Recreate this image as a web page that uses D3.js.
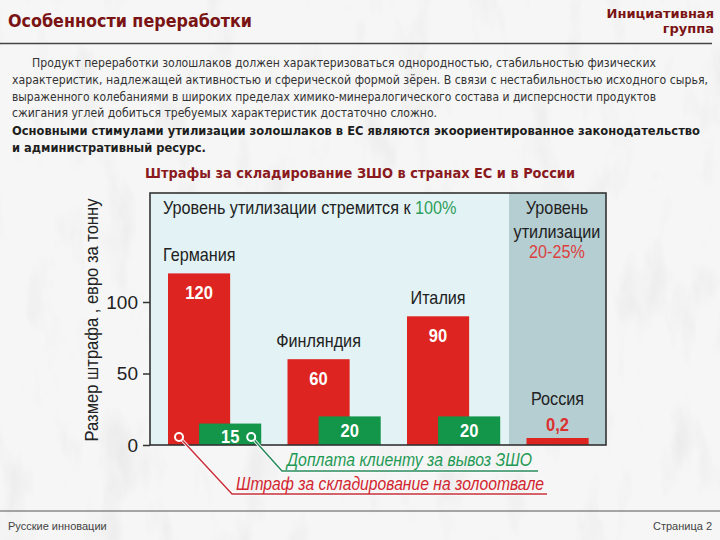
<!DOCTYPE html>
<html><head><meta charset="utf-8">
<script src="https://cdn.jsdelivr.net/npm/d3@7/dist/d3.min.js"></script>
<style>body{margin:0;background:#f0f0f0}svg{display:block}</style>
</head><body>
<svg id="c" width="720" height="540"></svg>
<script>
const countries = ["Германия", "Финляндия", "Италия", "Россия"];
const penalty = [120, 60, 90, 0.2];          // штраф за складирование
const payment = [15, 20, 20, null];          // доплата клиенту
const penaltyLabels = ["120", "60", "90", "0,2"];
const paymentLabels = ["15", "20", "20", ""];
const yTicks = [0, 50, 100];

const svg = d3.select("#c");
const defs = svg.append("defs");
const f = defs.append("filter").attr("id","marble").attr("x",0).attr("y",0).attr("width",1).attr("height",1);
f.append("feTurbulence").attr("type","fractalNoise").attr("baseFrequency","0.03 0.012").attr("numOctaves",4).attr("seed",3).attr("result","n");
f.append("feColorMatrix").attr("in","n").attr("type","matrix")
  .attr("values","0 0 0 0 0.74  0 0 0 0 0.74  0 0 0 0 0.74  0 0 0 -1.2 0.58").attr("result","m");
f.append("feComposite").attr("in","m").attr("in2","SourceGraphic").attr("operator","over");
svg.append("rect").attr("width",720).attr("height",540).attr("fill","#f6f6f6").attr("filter","url(#marble)");

// header
svg.append("text").attr("x",8).attr("y",27).attr("font-family","DejaVu Sans").attr("font-weight","bold")
  .attr("font-size",17).attr("fill","#7a1414").attr("textLength",244).attr("lengthAdjust","spacingAndGlyphs").text("Особенности переработки");
svg.append("text").attr("x",714).attr("y",18).attr("text-anchor","end").attr("font-family","DejaVu Sans").attr("font-weight","bold")
  .attr("font-size",13).attr("fill","#7a1414").text("Инициативная");
svg.append("text").attr("x",714).attr("y",33).attr("text-anchor","end").attr("font-family","DejaVu Sans").attr("font-weight","bold")
  .attr("font-size",13).attr("fill","#7a1414").text("группа");
svg.append("line").attr("x1",0).attr("x2",712).attr("y1",43.5).attr("y2",43.5).attr("stroke","#444").attr("stroke-width",1.5);

// paragraph
const para = [
  {x:32, y:67, t:"Продукт переработки золошлаков должен характеризоваться однородностью, стабильностью физических", w:624},
  {x:12, y:84, t:"характеристик, надлежащей активностью и сферической формой зёрен. В связи с нестабильностью исходного сырья,", w:696},
  {x:12, y:101, t:"выраженного колебаниями в широких пределах химико-минералогического состава и дисперсности продуктов", w:644},
  {x:12, y:117, t:"сжигания углей добиться требуемых характеристик достаточно сложно.", w:425}
];
para.forEach(p=>svg.append("text").attr("x",p.x).attr("y",p.y).attr("font-family","DejaVu Sans Condensed").attr("font-size",12)
  .attr("fill","#333").attr("textLength",p.w).attr("lengthAdjust","spacingAndGlyphs").text(p.t));
svg.append("text").attr("x",12).attr("y",135).attr("font-family","DejaVu Sans Condensed").attr("font-weight","bold").attr("font-size",12)
  .attr("fill","#1e1e1e").attr("textLength",688).attr("lengthAdjust","spacingAndGlyphs")
  .text("Основными стимулами утилизации золошлаков в ЕС являются экоориентированное законодательство");
svg.append("text").attr("x",12).attr("y",152).attr("font-family","DejaVu Sans Condensed").attr("font-weight","bold").attr("font-size",12)
  .attr("fill","#1e1e1e").attr("textLength",194).attr("lengthAdjust","spacingAndGlyphs").text("и административный ресурс.");
svg.append("text").attr("x",360).attr("y",178).attr("text-anchor","middle").attr("font-family","DejaVu Sans Condensed").attr("font-weight","bold")
  .attr("font-size",14).attr("fill","#8b1a1f").attr("textLength",430).attr("lengthAdjust","spacingAndGlyphs")
  .text("Штрафы за складирование ЗШО в странах ЕС и в России");

// chart
const L=150, R=606, T=193, B=445, shadeX=509;
const y = d3.scaleLinear().domain([0,50]).range([B, B-71.5]);
const x = d3.scaleBand().domain(countries).range([168, 168+4*119.5]).padding(0);
const bw = x.step()*0.52, off = x.step()*0.26;

svg.append("rect").attr("x",L).attr("y",T).attr("width",R-L).attr("height",B-T).attr("fill","#e3f3f5");
svg.append("rect").attr("x",shadeX).attr("y",T).attr("width",R-shadeX).attr("height",B-T).attr("fill","#b5ced2");

const g = svg.append("g");
countries.forEach((c,i)=>{
  const x0 = x(c);
  const top = Math.min(y(penalty[i]), B-7);
  g.append("rect").attr("x",x0).attr("y",top).attr("width",bw).attr("height",B-top).attr("fill","#dd2420");
  if(payment[i]!=null){
    const gt = y(payment[i]);
    g.append("rect").attr("x",x0+off).attr("y",gt).attr("width",bw).attr("height",B-gt).attr("fill","#14964a");
    g.append("text").attr("x",x0+off+bw/2).attr("y",Math.min(gt+21,B-2)).attr("text-anchor","middle").attr("font-family","Liberation Sans")
      .attr("font-weight","bold").attr("font-size",18).attr("fill","#fff")
      .attr("transform",`translate(${x0+off+bw/2},0) scale(0.92,1) translate(${-(x0+off+bw/2)},0)`).text(paymentLabels[i]);
  }
  const cx = x0+bw/2;
  if(i<3){
    g.append("text").attr("x",cx).attr("y",top+26).attr("text-anchor","middle").attr("font-family","Liberation Sans")
      .attr("font-weight","bold").attr("font-size",18).attr("fill","#fff")
      .attr("transform",`translate(${cx},0) scale(0.92,1) translate(${-cx},0)`).text(penaltyLabels[i]);
  } else {
    g.append("text").attr("x",cx).attr("y",top-7).attr("text-anchor","middle").attr("font-family","Liberation Sans")
      .attr("font-weight","bold").attr("font-size",18).attr("fill","#dd3030")
      .attr("transform",`translate(${cx},0) scale(0.92,1) translate(${-cx},0)`).text(penaltyLabels[i]);
  }
  const lx = i===0 ? x0-5 : cx;
  g.append("text").attr("x",lx).attr("y", i===3 ? top-33 : top-12).attr("text-anchor", i===0?"start":"middle")
    .attr("font-family","Liberation Sans").attr("font-size",18).attr("fill","#222")
    .attr("transform",`translate(${lx},0) scale(0.9,1) translate(${-lx},0)`).text(c);
});

// header texts in chart
const t1 = svg.append("text").attr("x",163).attr("y",214).attr("font-family","Liberation Sans").attr("font-size",18).attr("fill","#222")
  .attr("transform","translate(163,0) scale(0.9,1) translate(-163,0)");
t1.append("tspan").text("Уровень утилизации стремится к ");
t1.append("tspan").attr("fill","#2e9e5a").text("100%");
[["Уровень",214,"#222"],["утилизации",238,"#222"],["20-25%",258,"#dd4040"]].forEach(d=>{
  svg.append("text").attr("x",557).attr("y",d[1]).attr("text-anchor","middle").attr("font-family","Liberation Sans").attr("font-size",18)
    .attr("fill",d[2]).attr("transform","translate(557,0) scale(0.9,1) translate(-557,0)").text(d[0]);
});

// frame
svg.append("rect").attr("x",L).attr("y",T).attr("width",R-L).attr("height",B-T).attr("fill","none").attr("stroke","#333").attr("stroke-width",1.6);

// y axis
const ax = svg.append("g").attr("transform",`translate(${L},0)`)
  .call(d3.axisLeft(y).tickValues(yTicks).tickSize(7).tickPadding(5).tickFormat(d3.format("d")));
ax.select(".domain").remove();
ax.selectAll(".tick line").attr("stroke","#333").attr("stroke-width",1.5);
ax.selectAll(".tick text").attr("font-family","Liberation Sans").attr("font-size",19).attr("fill","#222");
svg.append("text").attr("transform","translate(98,320) rotate(-90) scale(0.92,1)").attr("text-anchor","middle")
  .attr("font-family","Liberation Sans").attr("font-size",18).attr("fill","#222").text("Размер штрафа , евро за тонну");

// legend leader lines
const rx = x(countries[0])+11, gx = x(countries[0])+off+bw-10, cy = B-8;
function leader(pts, col){
  const line = d3.line();
  svg.append("path").attr("d",line(pts)).attr("fill","none").attr("stroke","#fff").attr("stroke-width",3.2);
  svg.append("path").attr("d",line(pts)).attr("fill","none").attr("stroke",col).attr("stroke-width",1.5);
}
leader([[rx+3,cy+3],[232,494],[547,494]],"#c8303c");
leader([[gx+3,cy+3],[282,471],[538,471]],"#2a8a5c");
svg.append("circle").attr("cx",rx).attr("cy",cy).attr("r",4).attr("fill","#dd2420").attr("stroke","#fff").attr("stroke-width",2);
svg.append("circle").attr("cx",gx).attr("cy",cy).attr("r",4).attr("fill","#14964a").attr("stroke","#fff").attr("stroke-width",2);
svg.append("text").attr("x",287).attr("y",466).attr("font-family","Liberation Sans").attr("font-style","italic").attr("font-size",18)
  .attr("fill","#1f9a55").attr("textLength",245).attr("lengthAdjust","spacingAndGlyphs").text("Доплата клиенту за вывоз ЗШО");
svg.append("text").attr("x",236).attr("y",490).attr("font-family","Liberation Sans").attr("font-style","italic").attr("font-size",18)
  .attr("fill","#d3252f").attr("textLength",308).attr("lengthAdjust","spacingAndGlyphs").text("Штраф за складирование на золоотвале");

// footer
svg.append("line").attr("x1",0).attr("x2",720).attr("y1",511).attr("y2",511).attr("stroke","#555").attr("stroke-width",1.2);
svg.append("text").attr("x",8).attr("y",530).attr("font-family","Liberation Sans").attr("font-size",11).attr("fill","#444").text("Русские инновации");
svg.append("text").attr("x",712).attr("y",530).attr("text-anchor","end").attr("font-family","Liberation Sans").attr("font-size",11).attr("fill","#444").text("Страница 2");
</script>
</body></html>
